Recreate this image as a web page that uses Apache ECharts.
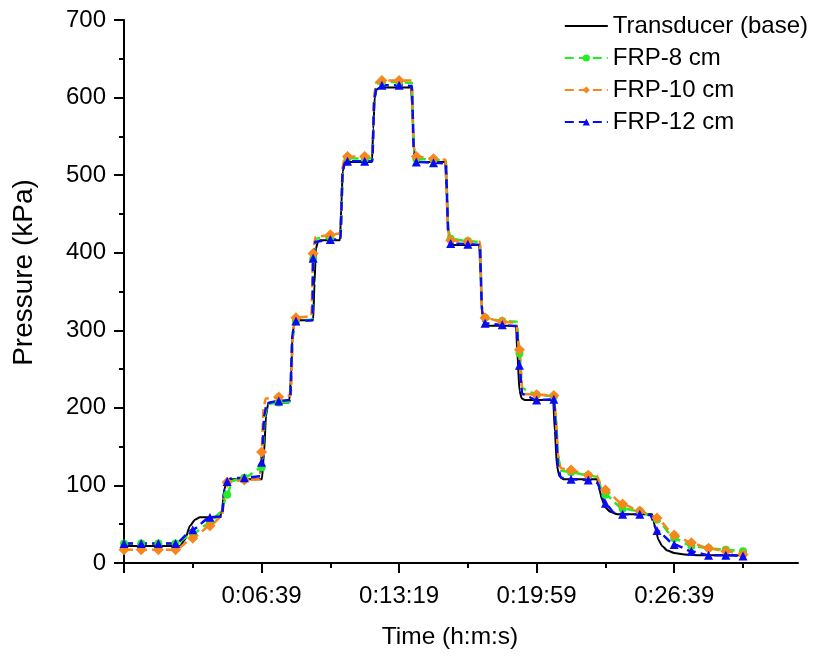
<!DOCTYPE html>
<html>
<head>
<meta charset="utf-8">
<script src="https://cdn.jsdelivr.net/npm/echarts@6/dist/echarts.min.js"></script>
<style>
html,body{margin:0;padding:0;background:#fff;}
#chart{width:820px;height:657px;}
</style>
</head>
<body>
<div id="chart"></div>
<script>
// ---- axis ticks (seconds from axis origin) ----
var xTickValues = [400, 800, 1200, 1600];
var xTickLabels = ['0:06:39', '0:13:19', '0:19:59', '0:26:39'];
var xMinorValues = [200, 600, 1000, 1400, 1800];

// ---- Transducer (base) ----
var baseData = [
  [0,22],[163,22],[177,30],[192,48],[207,56],[221,59],[279,59],[285,68],[292,95],[299,106],[308,108],
  [401,108],[407,140],[413,190],[419,205],[425,207],[480,207],[486,240],[490,295],[496,310],[503,313],
  [550,313],[554,360],[558,405],[564,414],[570,416],[628,416],[632,460],[636,505],[642,515],[650,517],
  [721,517],[725,560],[729,600],[735,611],[745,613],[835,613],[839,580],[843,530],[849,519],[858,517],
  [934,517],[938,480],[944,425],[950,413],[960,410],[1033,410],[1037,370],[1042,320],[1049,309],[1058,306],
  [1140,306],[1144,270],[1150,222],[1157,212],[1167,210],[1248,210],[1253,170],[1259,125],[1266,112],[1277,108],
  [1376,108],[1381,98],[1390,82],[1399,72],[1414,66],[1434,63],[1536,63],[1545,45],[1554,30],[1565,22],
  [1580,16],[1600,13],[1630,11],[1667,10],[1812,10]
];

// ---- marker sample times (s) ----
var markTimes = [0,50,100,150,200,250,300,350,400,450,500,550,600,650,700,750,800,850,900,950,1000,
  1050,1100,1150,1200,1250,1300,1350,1400,1450,1500,1550,1600,1650,1700,1750,1800];

// ---- FRP-8 cm ----
var frp8Marks = [25,25,25,25,38,52,88,110,123,207,312,392,420,522,521,620,620,521,520,418,415,
  316,312,270,217,215,117,113,88,70,67,56,32,22,19,17,15];
var frp8Corners = [
  [280,65],[315,106],[410,190],[418,205],[482,208],[490,290],[548,314],[557,418],
  [630,421],[637,510],[643,521],[722,522],[728,600],[734,618],[837,619],[843,535],[848,523],
  [936,519],[943,430],[1035,414],[1041,330],[1046,318],[1142,311],[1158,225],
  [1256,185],[1263,135],[1272,119],[1378,111],[1388,95]
];

// ---- FRP-10 cm ----
var frp10Marks = [17,17,17,17,32,48,104,107,143,214,316,399,423,524,524,622,622,524,521,416,414,
  316,311,275,217,216,120,113,94,76,67,58,36,26,19,15,11];
var frp10Corners = [
  [285,60],[293,95],[395,108],[406,200],[412,212],[485,216],[492,300],[497,314],[545,318],[556,420],
  [630,425],[636,512],[642,523],[722,525],[728,605],[734,620],[836,622],[842,540],[847,526],
  [935,520],[942,430],[947,418],[1035,414],[1040,330],[1045,318],[1140,310],[1158,225],[1165,218],
  [1256,190],[1262,140],[1270,122],[1376,112],[1386,100]
];

// ---- FRP-12 cm ----
var frp12Marks = [25,25,25,25,43,59,105,110,130,209,312,393,417,518,518,616,616,517,516,412,411,
  309,307,255,210,211,108,107,77,63,63,42,24,15,10,10,9];
var frp12Corners = [
  [285,60],[292,95],[310,109],[398,112],[408,190],[415,206],[483,210],[490,295],[496,310],[548,313],[556,414],
  [629,417],[636,505],[642,516],[722,518],[728,598],[734,613],[837,615],[843,530],[848,519],
  [936,515],[943,425],[1035,410],[1041,325],[1046,311],[1142,305],[1158,218],
  [1255,180],[1262,125],[1270,110],[1378,103],[1388,88],[1425,65],[1530,62]
];

function marksToPoints(vals){ return vals.map(function(v,i){ return [markTimes[i], v]; }); }
function lineFrom(vals, corners){
  var pts = marksToPoints(vals).concat(corners);
  pts.sort(function(a,b){ return a[0]-b[0]; });
  return pts;
}

var FONT = "'Liberation Sans', Arial, sans-serif";
var GREEN = '#22ee22', ORANGE = '#f7861c', BLUE = '#0a0af5';

function frpLine(name, color, symbol, vals, corners){
  return {
    name: name, type: 'line', data: lineFrom(vals, corners),
    showSymbol: false, symbol: symbol, smooth: 0.2, smoothMonotone: 'x',
    lineStyle: { color: color, width: 2.5, type: [9,5] },
    itemStyle: { color: color }, z: 3
  };
}
function frpMarks(name, color, symbol, size, vals){
  return {
    name: name, type: 'scatter', data: marksToPoints(vals),
    symbol: symbol, symbolSize: size, itemStyle: { color: color, opacity: 1 }, z: 4
  };
}

var chart = echarts.init(document.getElementById('chart'), null, { renderer: 'canvas' });
chart.setOption({
  animation: false,
  backgroundColor: '#fff',
  textStyle: { fontFamily: FONT },
  grid: { left: 124, right: 22, top: 20, bottom: 94, containLabel: false, outerBoundsMode: 'none' },
  legend: {
    orient: 'vertical', right: 12, top: 13, padding: 0,
    itemWidth: 43, itemHeight: 9, itemGap: 6,
    textStyle: { fontSize: 24, color: '#000', fontFamily: FONT, lineHeight: 26 },
    data: [
      { name: 'Transducer (base)', icon: 'path://M0 0H40V2H0Z' },
      'FRP-8 cm', 'FRP-10 cm', 'FRP-12 cm'
    ]
  },
  xAxis: [{
    type: 'value', min: 0, max: 1960, position: 'bottom',
    name: 'Time (h:m:s)', nameLocation: 'middle', nameGap: 62,
    nameTextStyle: { fontSize: 24.5, color: '#000', fontFamily: FONT, padding: [0, 22, 0, 0] },
    axisLine: { show: true, lineStyle: { color: '#000', width: 2 } },
    axisTick: { show: true, customValues: [0].concat(xTickValues), length: 10, lineStyle: { color: '#000', width: 2 } },
    axisLabel: {
      customValues: xTickValues, fontSize: 24, color: '#000', margin: 21, fontFamily: FONT,
      formatter: function(v){ var i = xTickValues.indexOf(v); return i >= 0 ? xTickLabels[i] : ''; }
    },
    splitLine: { show: false }
  }, {
    type: 'value', min: 0, max: 1960, position: 'bottom',
    axisLine: { show: false },
    axisTick: { show: true, customValues: xMinorValues, length: 5, lineStyle: { color: '#000', width: 2 } },
    axisLabel: { show: false },
    splitLine: { show: false }
  }],
  yAxis: {
    type: 'value', min: 0, max: 700, interval: 100,
    name: 'Pressure (kPa)', nameLocation: 'middle', nameGap: 86,
    nameTextStyle: { fontSize: 28, color: '#000', fontFamily: FONT, padding: [0, 0, 0, 38] },
    axisLine: { show: true, lineStyle: { color: '#000', width: 2 } },
    axisTick: { show: true, length: 10, lineStyle: { color: '#000', width: 2 } },
    minorTick: { show: true, splitNumber: 2, length: 5, lineStyle: { color: '#000', width: 2 } },
    axisLabel: { fontSize: 24, color: '#000', margin: 18, fontFamily: FONT },
    splitLine: { show: false }
  },
  series: [
    {
      name: 'Transducer (base)', type: 'line', data: baseData, symbol: 'none',
      smooth: 0.2, smoothMonotone: 'x',
      lineStyle: { color: '#000', width: 2 }, itemStyle: { color: '#000' }, z: 2
    },
    frpLine('FRP-8 cm', GREEN, 'circle', frp8Marks, frp8Corners),
    frpLine('FRP-10 cm', ORANGE, 'diamond', frp10Marks, frp10Corners),
    frpLine('FRP-12 cm', BLUE, 'triangle', frp12Marks, frp12Corners),
    frpMarks('FRP-8 cm', GREEN, 'circle', 8, frp8Marks),
    frpMarks('FRP-10 cm', ORANGE, 'diamond', 11, frp10Marks),
    frpMarks('FRP-12 cm', BLUE, 'triangle', 9, frp12Marks)
  ]
});
</script>
</body>
</html>
